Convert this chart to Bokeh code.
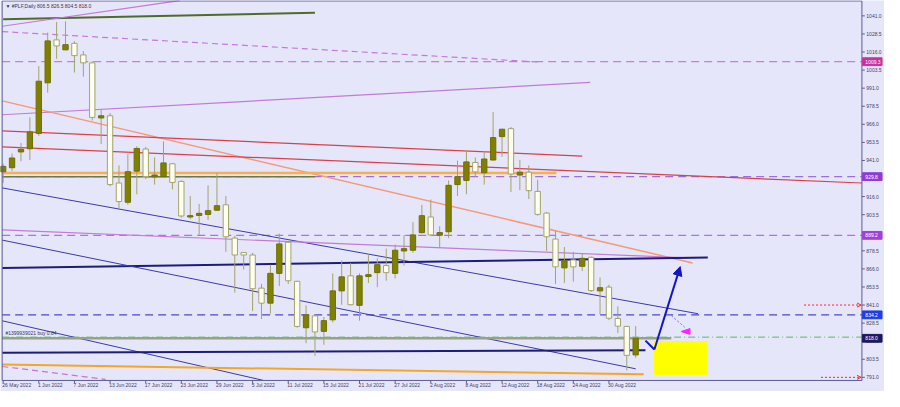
from bokeh.plotting import figure
from bokeh.models import ColumnDataSource, Range1d, Arrow, NormalHead, OpenHead
from bokeh.embed import file_html
from bokeh.resources import INLINE
from bokeh.core.properties import value

# ---------------- data ----------------
opens = [933.2, 936.0, 946.9, 949.1, 959.7, 994.7, 1024.4, 1017.5, 1022.0, 1014.0,
         1008.5, 970.4, 971.9, 925.4, 912.1, 933.6, 948.9, 929.6, 929.8, 938.7,
         926.5, 901.9, 903.0, 903.7, 906.6, 910.3, 887.3, 877.3, 875.6, 852.7,
         842.3, 862.9, 884.4, 857.4, 825.3, 833.5, 822.8, 830.8, 850.8, 861.2,
         840.8, 860.7, 863.4, 868.3, 862.9, 878.4, 878.9, 891.1, 901.9, 889.3,
         891.7, 924.3, 927.2, 939.6, 932.5, 941.3, 957.5, 963.0, 930.9, 932.9,
         919.6, 904.6, 886.6, 866.7, 872.2, 867.8, 874.0, 850.8, 853.4, 831.7,
         826.2, 806.5]
highs = [938.7, 945.8, 953.1, 970.8, 1006.2, 1029.5, 1036.8, 1037.2, 1023.5, 1016.7,
         1009.6, 975.9, 973.7, 937.6, 945.3, 950.9, 950.4, 943.1, 954.2, 939.1,
         927.2, 916.5, 911.0, 923.8, 932.5, 916.5, 888.9, 877.3, 877.1, 855.6,
         868.9, 890.4, 885.1, 857.8, 840.8, 834.6, 832.8, 862.9, 871.8, 870.0,
         862.9, 876.2, 873.3, 880.0, 882.9, 889.5, 898.4, 910.3, 913.9, 895.5,
         927.2, 940.9, 948.2, 943.1, 947.5, 974.6, 963.0, 964.2, 941.3, 937.6,
         927.6, 905.5, 892.2, 881.1, 877.8, 876.7, 874.5, 860.1, 855.0, 840.1,
         826.6, 826.5]
lows = [925.4, 933.6, 940.5, 941.3, 958.0, 987.9, 1011.3, 1017.3, 1001.8, 998.9,
        968.6, 952.4, 923.2, 908.1, 910.3, 917.6, 928.1, 924.3, 929.4, 921.0,
        901.5, 900.4, 889.5, 899.9, 906.1, 877.8, 849.6, 865.6, 836.8, 831.3,
        835.0, 854.1, 855.6, 825.3, 814.6, 805.8, 813.5, 829.0, 841.2, 840.8,
        830.2, 856.3, 853.4, 857.8, 859.4, 868.3, 877.1, 890.4, 888.9, 880.4,
        887.3, 916.5, 917.6, 929.8, 924.3, 940.9, 943.5, 919.2, 920.5, 914.3,
        902.8, 878.4, 855.6, 856.3, 857.2, 864.5, 850.1, 834.6, 830.6, 821.7,
        795.8, 804.5]
closes = [936.9, 942.7, 948.7, 960.8, 995.8, 1023.7, 1020.2, 1021.1, 1013.5, 1008.5,
          970.8, 971.9, 924.3, 912.6, 933.2, 949.3, 929.8, 930.9, 939.3, 925.8,
          902.6, 902.8, 904.4, 906.3, 909.7, 888.2, 875.6, 875.6, 852.3, 842.3,
          862.9, 883.3, 857.8, 826.2, 834.2, 822.4, 830.2, 850.8, 860.5, 841.2,
          861.2, 862.0, 868.9, 863.4, 878.9, 880.0, 889.5, 902.8, 889.5, 891.1,
          923.8, 929.8, 940.0, 933.1, 942.0, 956.8, 962.6, 931.6, 932.9, 920.1,
          903.7, 888.2, 867.4, 871.6, 867.4, 873.3, 851.0, 853.0, 831.9, 826.4,
          806.2, 818.0]

date_tick_idx = [0, 4, 8, 12, 16, 20, 24, 28, 32, 36, 40, 44, 48, 52, 56, 60, 64, 68]
date_tick_labels = ["26 May 2022", "1 Jun 2022", "7 Jun 2022", "13 Jun 2022", "17 Jun 2022",
                    "23 Jun 2022", "29 Jun 2022", "5 Jul 2022", "11 Jul 2022", "15 Jul 2022",
                    "21 Jul 2022", "27 Jul 2022", "2 Aug 2022", "8 Aug 2022", "12 Aug 2022",
                    "18 Aug 2022", "24 Aug 2022", "30 Aug 2022"]
price_ticks = [791.0, 803.5, 816.0, 828.5, 841.0, 853.5, 866.0, 878.5, 891.0, 903.5,
               916.0, 928.5, 941.0, 953.5, 966.0, 978.5, 991.0, 1003.5, 1016.0, 1028.5, 1041.0]

level_prices = [1009.3, 929.8, 889.2, 834.2]
bid_price = 818.0
order_price = 818.8
order_text = "#1399939021 buy 0.84"
title_text = "\u25bc #PLF,Daily  806.5 826.5 804.5 818.0"

# trend lines: (x0 bar, y0 price, x1 bar, y1 price)
trend_lines = {
    "top_green":   (0.0, 1038.7, 35.0, 1043.2),
    "top_violet":  (-0.1, 1033.8, 19.8, 1051.6),
    "violet_dash": (-0.1, 1030.1, 60.1, 1009.1),
    "violet_up":   (-0.1, 972.6, 65.9, 995.0),
    "salmon":      (-0.1, 982.2, 77.4, 870.1),
    "red_short":   (-0.1, 961.5, 65.0, 944.0),
    "red_long":    (-0.1, 950.4, 96.4, 925.4),
    "orange_flat": (-0.1, 932.4, 62.1, 932.4),
    "green_flat":  (-0.1, 929.7, 35.0, 929.7),
    "blue_upper":  (-0.1, 922.0, 78.0, 835.0),
    "violet_low":  (-0.1, 893.0, 76.9, 873.6),
    "navy_mid":    (-0.1, 866.6, 79.1, 873.9),
    "blue_mid":    (-0.1, 885.9, 71.0, 796.9),
    "blue_lower":  (-0.1, 830.1, 29.2, 788.9),
    "grey_bid":    (-0.1, 818.0, 75.0, 818.0),
    "navy_low":    (-0.1, 808.0, 72.1, 809.8),
    "orange_low":  (-0.1, 799.8, 71.9, 793.2),
    "pink_low":    (-0.1, 798.5, 11.5, 789.6),
}
arrow_path_x = [72.1, 73.1, 76.0]
arrow_path_y = [816.4, 810.2, 867.6]
dotted_x = [75.0, 76.5]
dotted_y = [833.7, 825.7]
flag_x = [76.1, 77.1, 77.1]
flag_y = [822.7, 824.7, 820.7]
box_x = [73.1, 79.0]
box_y = [793.0, 815.7]
red_marks = [(89.9, 841.0), (91.8, 791.0)]
red_mark_end = 96.3

# ---------------- geometry / styles ----------------
BG = "#e6e6fa"
FRAME = "#5b5b95"
FONT = "Liberation Sans"
TXT = "#3e3e66"


def bx(px):   # horizontal pixel of the original screen -> bar index
    return (px - 2.7) / 9.07


def py(px):   # vertical pixel of the original screen -> price
    return 1041.0 - (px - 16.0) / 1.505


X_LEFT, X_AXIS = bx(1.7), bx(877.0)
Y_TOP, Y_AXIS = py(0.5), py(395.5)

styles = {
    "top_green":   dict(color="#4f6b2a", w=2, dash="solid"),
    "top_violet":  dict(color="#c47ad6", w=1.2, dash="solid"),
    "violet_dash": dict(color="#c47ad6", w=1.2, dash="6 4"),
    "violet_up":   dict(color="#c47ad6", w=1.2, dash="solid"),
    "salmon":      dict(color="#f59a78", w=1.5, dash="solid"),
    "red_short":   dict(color="#d9404a", w=1.2, dash="solid"),
    "red_long":    dict(color="#d9404a", w=1.2, dash="solid"),
    "orange_flat": dict(color="#f7b04f", w=2.5, dash="solid"),
    "green_flat":  dict(color="#6a7a50", w=1.5, dash="solid"),
    "blue_upper":  dict(color="#3a3aa8", w=1, dash="solid"),
    "violet_low":  dict(color="#c47ad6", w=1.2, dash="solid"),
    "navy_mid":    dict(color="#1c1c7a", w=2, dash="solid"),
    "blue_mid":    dict(color="#3a3aa8", w=1, dash="solid"),
    "blue_lower":  dict(color="#3a3aa8", w=1, dash="solid"),
    "grey_bid":    dict(color="#98a088", w=2.5, dash="solid"),
    "navy_low":    dict(color="#1c1c7a", w=2, dash="solid"),
    "orange_low":  dict(color="#f5a623", w=2, dash="solid"),
    "pink_low":    dict(color="#d070d0", w=1.2, dash="6 4"),
}
level_line_colors = ["#d07ad0", "#9a70e0", "#b070e0", "#4848c8"]
level_box_colors = ["#cc2f9e", "#8e3bd8", "#a040d8", "#1f3fe0"]
bid_box_color = "#1a1a5e"

W, H = 884, 391
p = figure(width=W, height=H, x_range=Range1d(bx(0), bx(900)), y_range=Range1d(py(407), py(0)),
           output_backend="svg", toolbar_location=None,
           x_axis_location=None, y_axis_location=None,
           min_border_left=0, min_border_right=0, min_border_top=0, min_border_bottom=0)
p.background_fill_color = BG
p.border_fill_color = BG
p.outline_line_color = None
p.xgrid.visible = False
p.ygrid.visible = False

# level lines (full width of the chart area)
for pr, c in zip(level_prices, level_line_colors):
    p.line([X_LEFT, X_AXIS], [pr, pr], line_color=c, line_width=1.2, line_dash="8 5")
# order line
p.line([X_LEFT, X_AXIS], [order_price, order_price], line_color="#5cb85c", line_width=1,
       line_dash="7 3 1 3")

for name, (x0, y0, x1, y1) in trend_lines.items():
    s = styles[name]
    p.line([x0, x1], [y0, y1], line_color=s["color"], line_width=s["w"], line_dash=s["dash"])

# yellow box
p.quad(left=[box_x[0]], right=[box_x[1]], bottom=[box_y[0]], top=[box_y[1]],
       fill_color="#ffff00", line_color="#ffff00")

# candles
idx = list(range(len(opens)))
bull = [c >= o for o, c in zip(opens, closes)]
src = ColumnDataSource(dict(
    x=idx, o=opens, h=highs, l=lows, c=closes,
    top=[max(o, c) for o, c in zip(opens, closes)],
    bot=[min(o, c) for o, c in zip(opens, closes)],
    fill=["#808000" if b else "#fffff0" for b in bull],
    line=["#6f6f00" if b else "#a3a36b" for b in bull],
))
p.segment(x0="x", y0="l", x1="x", y1="h", source=src, line_color="#a3a36b", line_width=1)
p.vbar(x="x", width=0.6, top="top", bottom="bot", source=src,
       fill_color="fill", line_color="line", line_width=1)

# blue arrow
p.line(arrow_path_x[:2], arrow_path_y[:2], line_color="#1414c8", line_width=2)
p.add_layout(Arrow(end=NormalHead(size=9, fill_color="#1414c8", line_color="#1414c8"),
                   x_start=arrow_path_x[1], y_start=arrow_path_y[1],
                   x_end=arrow_path_x[2], y_end=arrow_path_y[2],
                   line_color="#1414c8", line_width=2))
p.line(dotted_x, dotted_y, line_color="#7070d8", line_width=1, line_dash="2 2")
p.patch(flag_x, flag_y, fill_color="#ff22ff", line_color="#ff22ff")

# red dotted marks on right
for xs, pr in red_marks:
    p.add_layout(Arrow(end=OpenHead(size=4, line_color="#ff2020", line_width=1),
                       x_start=xs, y_start=pr, x_end=red_mark_end, y_end=pr,
                       line_color="#ff2020", line_width=1, line_dash="2 2"))

# frame (left / top border, right and bottom axis lines)
p.line([X_LEFT, X_LEFT, X_AXIS, X_AXIS, X_LEFT], [Y_AXIS, Y_TOP, Y_TOP, Y_AXIS, Y_AXIS],
       line_color=FRAME, line_width=1)

# price axis ticks and labels
p.segment(x0=[X_AXIS] * len(price_ticks), x1=[bx(880)] * len(price_ticks),
          y0=price_ticks, y1=price_ticks, line_color=FRAME, line_width=1)
p.text(x=[bx(881.5)] * len(price_ticks), y=price_ticks, text=["%.1f" % t for t in price_ticks],
       text_font=value(FONT), text_font_size="5px", text_color=TXT, text_baseline="middle")

# date ticks and labels
p.segment(x0=date_tick_idx, x1=date_tick_idx, y0=[Y_AXIS] * len(date_tick_idx),
          y1=[py(398.5)] * len(date_tick_idx), line_color=FRAME, line_width=1)
p.text(x=[i - 0.1 for i in date_tick_idx], y=[py(397.5)] * len(date_tick_idx),
       text=date_tick_labels, text_font=value(FONT), text_font_size="5px", text_color=TXT,
       text_baseline="top", text_align="left")

# price boxes on the axis
box_prices = level_prices + [bid_price]
box_colors = level_box_colors + [bid_box_color]
p.quad(left=[bx(877.5)] * len(box_prices), right=[bx(897.5)] * len(box_prices),
       bottom=[b - 2.7 for b in box_prices], top=[b + 2.7 for b in box_prices],
       fill_color=box_colors, line_color=box_colors)
p.text(x=[bx(880.5)] * len(box_prices), y=box_prices, text=["%.1f" % b for b in box_prices],
       text_font=value(FONT), text_font_size="5px", text_color="white", text_baseline="middle")

# other texts
p.text(x=[bx(5)], y=[order_price], text=[order_text], text_font=value(FONT),
       text_font_size="5px", text_color="#333355", text_baseline="bottom", y_offset=-1)
p.text(x=[bx(5)], y=[py(6)], text=[title_text], text_font=value(FONT),
       text_font_size="5px", text_color="#333355", text_baseline="middle")

open("out.html", "w").write(file_html(p, INLINE))
